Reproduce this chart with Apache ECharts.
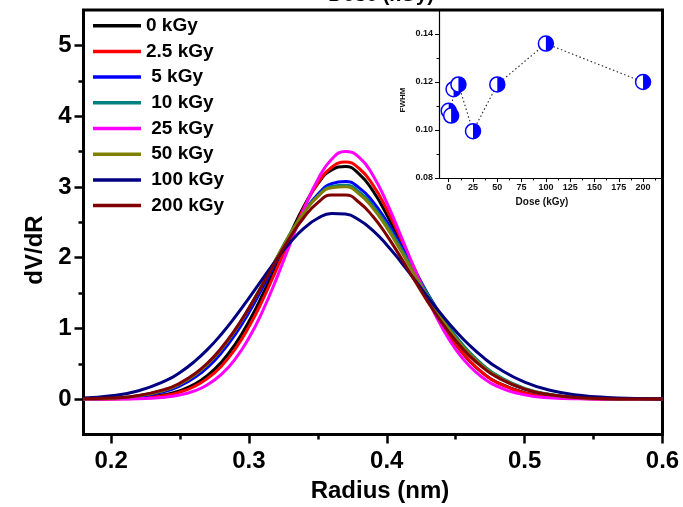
<!DOCTYPE html>
<html>
<head>
<meta charset="utf-8">
<script src="https://cdn.jsdelivr.net/npm/echarts@6/dist/echarts.min.js"></script>
<style>
  html, body { margin: 0; padding: 0; background: #fff; }
  #chart { width: 683px; height: 507px; }
</style>
</head>
<body>
<div id="chart"></div>
<script>
// Pore-size distributions dV/dR versus radius for each irradiation dose
const radius = [0.18, 0.20, 0.22, 0.24, 0.25, 0.26, 0.27, 0.28, 0.29, 0.30, 0.31, 0.32, 0.33, 0.34, 0.35, 0.36, 0.37,
                0.38, 0.39, 0.40, 0.41, 0.42, 0.43, 0.44, 0.45, 0.46, 0.47, 0.48, 0.50, 0.52, 0.54, 0.56, 0.58, 0.60];

const dv0kGy   = [0.001, 0.004, 0.018, 0.067, 0.120, 0.206, 0.335, 0.522, 0.774, 1.096, 1.479, 1.902, 2.334, 2.730, 3.046, 3.240, 3.287,
                  3.181, 2.942, 2.604, 2.210, 1.801, 1.410, 1.062, 0.771, 0.540, 0.364, 0.238, 0.091, 0.031, 0.009, 0.002, 0.001, 0.000];
const dv2p5kGy = [0.000, 0.003, 0.014, 0.054, 0.100, 0.175, 0.293, 0.466, 0.707, 1.021, 1.403, 1.835, 2.284, 2.707, 3.053, 3.278, 3.350,
                  3.260, 3.025, 2.683, 2.277, 1.851, 1.444, 1.083, 0.781, 0.542, 0.362, 0.234, 0.087, 0.029, 0.008, 0.002, 0.000, 0.000];
const dv5kGy   = [0.003, 0.011, 0.038, 0.115, 0.188, 0.297, 0.449, 0.654, 0.913, 1.224, 1.577, 1.950, 2.317, 2.643, 2.895, 3.045, 3.076,
                  2.986, 2.788, 2.509, 2.178, 1.826, 1.480, 1.161, 0.882, 0.650, 0.465, 0.322, 0.142, 0.056, 0.020, 0.006, 0.002, 0.001];
const dv10kGy  = [0.004, 0.014, 0.047, 0.136, 0.217, 0.335, 0.497, 0.709, 0.973, 1.284, 1.630, 1.991, 2.339, 2.644, 2.874, 3.005, 3.023,
                  2.927, 2.731, 2.459, 2.140, 1.802, 1.469, 1.160, 0.889, 0.662, 0.478, 0.336, 0.153, 0.062, 0.023, 0.008, 0.003, 0.001];
const dv25kGy  = [0.000, 0.001, 0.006, 0.029, 0.059, 0.113, 0.204, 0.349, 0.565, 0.863, 1.247, 1.704, 2.201, 2.688, 3.104, 3.390, 3.500,
                  3.417, 3.161, 2.776, 2.319, 1.845, 1.400, 1.015, 0.704, 0.467, 0.298, 0.182, 0.060, 0.017, 0.004, 0.001, 0.000, 0.000];
const dv50kGy  = [0.003, 0.014, 0.046, 0.135, 0.216, 0.334, 0.495, 0.707, 0.971, 1.283, 1.629, 1.989, 2.335, 2.637, 2.863, 2.989, 3.001,
                  2.899, 2.698, 2.424, 2.103, 1.765, 1.434, 1.129, 0.862, 0.639, 0.460, 0.322, 0.145, 0.059, 0.021, 0.007, 0.002, 0.001];
const dv100kGy = [0.017, 0.047, 0.119, 0.264, 0.377, 0.523, 0.703, 0.918, 1.162, 1.429, 1.704, 1.973, 2.216, 2.416, 2.556, 2.624, 2.615,
                  2.531, 2.381, 2.180, 1.945, 1.691, 1.435, 1.189, 0.962, 0.761, 0.589, 0.446, 0.240, 0.119, 0.055, 0.023, 0.009, 0.003];
const dv200kGy = [0.004, 0.015, 0.051, 0.143, 0.227, 0.347, 0.510, 0.722, 0.982, 1.286, 1.620, 1.964, 2.291, 2.571, 2.777, 2.886, 2.886,
                  2.779, 2.581, 2.315, 2.007, 1.683, 1.368, 1.078, 0.825, 0.612, 0.442, 0.310, 0.141, 0.058, 0.021, 0.007, 0.002, 0.001];

const seriesNames = ['0 kGy', '2.5 kGy', ' 5 kGy', ' 10 kGy', ' 25 kGy', ' 50 kGy', ' 100 kGy', ' 200 kGy'];
const seriesValues = [dv0kGy, dv2p5kGy, dv5kGy, dv10kGy, dv25kGy, dv50kGy, dv100kGy, dv200kGy];
const seriesColors = ['#000000', '#ff0000', '#0000ff', '#008080', '#ff00ff', '#808000', '#000080', '#800000'];

// Inset: FWHM of each distribution versus dose
const dose = [0, 2.5, 5, 10, 25, 50, 100, 200];
const fwhm = [0.108, 0.106, 0.117, 0.119, 0.0995, 0.119, 0.136, 0.120];

// Tick positions
const radiusTicks = [0.2, 0.3, 0.4, 0.5, 0.6];
const radiusMinorTicks = [0.25, 0.35, 0.45, 0.55];
const dvdrTicks = [0, 1, 2, 3, 4, 5];
const dvdrMinorTicks = [0.5, 1.5, 2.5, 3.5, 4.5];
const doseTicks = [0, 25, 50, 75, 100, 125, 150, 175, 200];
const doseMinorTicks = [12.5, 37.5, 62.5, 87.5, 112.5, 137.5, 162.5, 187.5, 212.5];
const fwhmTicks = [0.08, 0.10, 0.12, 0.14];
const fwhmMinorTicks = [0.09, 0.11, 0.13];

const FONT = '"Liberation Sans", Arial, Helvetica, sans-serif';

const chart = echarts.init(document.getElementById('chart'), null, { renderer: 'canvas' });

function valueAxis(extra) {
  return Object.assign({
    type: 'value',
    splitLine: { show: false },
    axisLine: { show: false, onZero: false }
  }, extra);
}

const curveSeries = seriesValues.map((vals, i) => ({
  type: 'line',
  name: seriesNames[i],
  xAxisIndex: 0,
  yAxisIndex: 0,
  data: radius.map((r, j) => [r, vals[j]]),
  smooth: true,
  symbol: 'none',
  lineStyle: { width: 3, color: seriesColors[i] },
  itemStyle: { color: seriesColors[i] },
  silent: true
}));

const option = {
  animation: false,
  backgroundColor: '#ffffff',
  grid: [
    { left: 83.5, right: 20.5, top: 10, bottom: 72.5, show: true, borderColor: '#000', borderWidth: 3, backgroundColor: 'transparent' },
    { left: 439, right: 20.5, top: 10, bottom: 329, show: false }
  ],
  legend: {
    orient: 'vertical',
    left: 93,
    top: 12.85,
    padding: 0,
    itemGap: 0,
    itemWidth: 48,
    itemHeight: 3.5,
    icon: 'rect',
    selectedMode: false,
    data: seriesNames,
    textStyle: { fontFamily: FONT, fontSize: 19, fontWeight: 'bold', color: '#000', lineHeight: 25.7 }
  },
  xAxis: [
    valueAxis({
      gridIndex: 0, min: 0.18, max: 0.6, position: 'bottom',
      axisTick: { show: true, inside: false, length: 9, lineStyle: { width: 2.5, color: '#000' }, customValues: radiusTicks },
      axisLabel: { show: true, margin: 15, fontFamily: FONT, fontSize: 24, fontWeight: 'bold', color: '#000', customValues: radiusTicks, formatter: v => v.toFixed(1) }
    }),
    valueAxis({
      gridIndex: 0, min: 0.18, max: 0.6, position: 'bottom',
      axisTick: { show: true, inside: false, length: 5, lineStyle: { width: 2.5, color: '#000' }, customValues: radiusMinorTicks },
      axisLabel: { show: false }
    }),
    valueAxis({
      gridIndex: 1, min: -10, max: 220, position: 'bottom',
      axisLine: { show: true, onZero: false, lineStyle: { width: 1.2, color: '#000' } },
      axisTick: { show: true, inside: false, length: 4, lineStyle: { width: 1, color: '#000' }, customValues: doseTicks },
      axisLabel: { show: true, margin: 5, fontFamily: FONT, fontSize: 9, fontWeight: 'bold', color: '#111', customValues: doseTicks }
    }),
    valueAxis({
      gridIndex: 1, min: -10, max: 220, position: 'bottom',
      axisTick: { show: true, inside: false, length: 2.5, lineStyle: { width: 1, color: '#000' }, customValues: doseMinorTicks },
      axisLabel: { show: false }
    })
  ],
  yAxis: [
    valueAxis({
      gridIndex: 0, min: -0.5, max: 5.5, position: 'left',
      axisTick: { show: true, inside: false, length: 9, lineStyle: { width: 2.5, color: '#000' }, customValues: dvdrTicks },
      axisLabel: { show: true, margin: 12, fontFamily: FONT, fontSize: 24, fontWeight: 'bold', color: '#000', customValues: dvdrTicks, formatter: v => String(Math.round(v)) }
    }),
    valueAxis({
      gridIndex: 0, min: -0.5, max: 5.5, position: 'left',
      axisTick: { show: true, inside: false, length: 5, lineStyle: { width: 2.5, color: '#000' }, customValues: dvdrMinorTicks },
      axisLabel: { show: false }
    }),
    valueAxis({
      gridIndex: 1, min: 0.08, max: 0.15, position: 'left',
      axisLine: { show: true, onZero: false, lineStyle: { width: 1.2, color: '#000' } },
      axisTick: { show: true, inside: false, length: 4, lineStyle: { width: 1, color: '#000' }, customValues: fwhmTicks },
      axisLabel: { show: true, margin: 6, fontFamily: FONT, fontSize: 9, fontWeight: 'bold', color: '#111', customValues: fwhmTicks, formatter: v => v.toFixed(2) }
    }),
    valueAxis({
      gridIndex: 1, min: 0.08, max: 0.15, position: 'left',
      axisTick: { show: true, inside: false, length: 2.5, lineStyle: { width: 1, color: '#000' }, customValues: fwhmMinorTicks },
      axisLabel: { show: false }
    })
  ],
  series: curveSeries.concat([
    {
      type: 'line',
      name: 'fwhm-trend',
      xAxisIndex: 2,
      yAxisIndex: 2,
      data: dose.map((d, i) => [d, fwhm[i]]),
      symbol: 'none',
      lineStyle: { width: 1.2, type: [1.5, 2.5], color: '#333' },
      silent: true,
      z: 3
    },
    {
      type: 'custom',
      name: 'fwhm-points',
      xAxisIndex: 2,
      yAxisIndex: 2,
      data: dose.map((d, i) => [d, fwhm[i]]),
      z: 4,
      silent: true,
      renderItem: function (params, api) {
        const p = api.coord([api.value(0), api.value(1)]);
        const r = 7.5;
        return {
          type: 'group',
          children: [
            { type: 'circle', shape: { cx: p[0], cy: p[1], r: r }, style: { fill: '#ffffff', stroke: '#0000ff', lineWidth: 1.5 } },
            { type: 'sector', shape: { cx: p[0], cy: p[1], r0: 0, r: r, startAngle: -Math.PI / 2, endAngle: Math.PI / 2, clockwise: true }, style: { fill: '#0000ff' } }
          ]
        };
      }
    }
  ]),
  graphic: [
    { type: 'text', x: 35, y: 250, rotation: Math.PI / 2, style: { text: 'dV/dR', font: 'bold 24px ' + FONT, fill: '#000', align: 'center', verticalAlign: 'middle' } },
    { type: 'text', x: 380, y: 491, style: { text: 'Radius (nm)', font: 'bold 24px ' + FONT, fill: '#000', align: 'center', verticalAlign: 'middle' } },
    { type: 'text', x: 381, y: -4.5, style: { text: 'Dose (kGy)', font: 'bold 20px ' + FONT, fill: '#000', align: 'center', verticalAlign: 'middle' } },
    { type: 'text', x: 403, y: 100, rotation: Math.PI / 2, style: { text: 'FWHM', font: 'bold 8px ' + FONT, fill: '#111', align: 'center', verticalAlign: 'middle' } },
    { type: 'text', x: 542, y: 202, style: { text: 'Dose (kGy)', font: 'bold 10px ' + FONT, fill: '#111', align: 'center', verticalAlign: 'middle' } }
  ]
};

chart.setOption(option);
</script>
</body>
</html>
